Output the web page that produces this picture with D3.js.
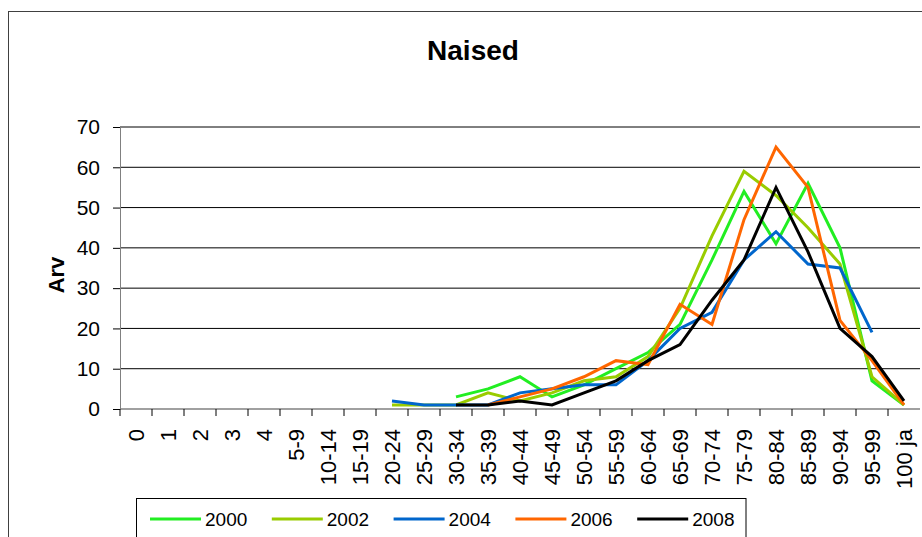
<!DOCTYPE html>
<html>
<head>
<meta charset="utf-8">
<script src="https://cdn.jsdelivr.net/npm/d3@7"></script>
<style>
  body { margin: 0; background: #fff; }
  svg { font-family: "Liberation Sans", Arial, sans-serif; }
</style>
</head>
<body>
<div id="chart"></div>
<script>
const categories = ["0", "1", "2", "3", "4", "5-9", "10-14", "15-19", "20-24", "25-29", "30-34",
  "35-39", "40-44", "45-49", "50-54", "55-59", "60-64", "65-69", "70-74", "75-79", "80-84",
  "85-89", "90-94", "95-99", "100 ja"];
const years = ["2000", "2002", "2004", "2006", "2008"];
const colors = ["#22ee22", "#99cc00", "#0066cc", "#ff6600", "#000000"];
const yTicks = [0, 10, 20, 30, 40, 50, 60, 70];

const n = null;
const v2000 = [n, n, n, n, n, n, n, n, n, n, 3, 5, 8, 3, 6, 10, 14, 21, 37, 54, 41, 56, 40, 7, 1];
const v2002 = [n, n, n, n, n, n, n, n, 1, 1, 1, 4, 2, 4, 7, 8, 13, 25, 43, 59, 53, 45, 36, 8, 1];
const v2004 = [n, n, n, n, n, n, n, n, 2, 1, 1, 1, 4, 5, 6, 6, 12, 20, 24, 37, 44, 36, 35, 19, n];
const v2006 = [n, n, n, n, n, n, n, n, n, n, n, 1, 3, 5, 8, 12, 11, 26, 21, 47, 65, 55, 22, 12, 1];
const v2008 = [n, n, n, n, n, n, n, n, n, n, 1, 1, 2, 1, 4, 7, 12, 16, 27, 37, 55, 39, 20, 13, 2];
const series = [v2000, v2002, v2004, v2006, v2008];

const width = 922, height = 537;
const margin = { top: 127, right: 2, bottom: 128, left: 120 };

const svg = d3.select("#chart").append("svg")
  .attr("width", width)
  .attr("height", height);

// outer frame
svg.append("rect")
  .attr("x", 8.5).attr("y", 11.5)
  .attr("width", 940).attr("height", 600)
  .attr("fill", "none").attr("stroke", "#404040");

const x = d3.scaleBand()
  .domain(categories)
  .range([margin.left, width - margin.right])
  .padding(0);

const y = d3.scaleLinear()
  .domain([0, 70])
  .range([height - margin.bottom, margin.top]);

const bottom = y(0);

// gridlines
svg.append("g")
  .selectAll("line")
  .data(yTicks.filter(d => d > 0))
  .join("line")
  .attr("x1", margin.left).attr("x2", width - margin.right)
  .attr("y1", d => y(d)).attr("y2", d => y(d))
  .attr("stroke", "#000").attr("stroke-width", 1);

// y axis
const yAxis = svg.append("g")
  .attr("transform", `translate(${margin.left},0)`)
  .call(d3.axisLeft(y).tickValues(yTicks).tickSize(7).tickPadding(13).tickSizeOuter(0));
yAxis.select(".domain").attr("stroke", "#808080");
yAxis.selectAll(".tick line").attr("stroke", "#000");
yAxis.selectAll("text").attr("font-size", 21).attr("fill", "#000")
  .attr("font-family", "Liberation Sans, Arial, sans-serif");

// x axis line
svg.append("line")
  .attr("x1", margin.left).attr("x2", width - margin.right)
  .attr("y1", bottom).attr("y2", bottom)
  .attr("stroke", "#808080").attr("stroke-width", 1.5);

// x ticks between categories
svg.append("g")
  .selectAll("line")
  .data(categories)
  .join("line")
  .attr("x1", d => x(d)).attr("x2", d => x(d))
  .attr("y1", bottom).attr("y2", bottom + 7)
  .attr("stroke", "#000");

// x labels, rotated
svg.append("g")
  .selectAll("text")
  .data(categories)
  .join("text")
  .attr("transform", d => `translate(${x(d) + x.bandwidth() / 2},${bottom + 20}) rotate(-90)`)
  .attr("text-anchor", "end")
  .attr("dy", "0.36em")
  .attr("font-size", 22)
  .text(d => d);

// lines
const line = d3.line()
  .defined(d => d.v !== null)
  .x(d => x(d.c) + x.bandwidth() / 2)
  .y(d => y(d.v));

svg.append("g")
  .selectAll("path")
  .data(series)
  .join("path")
  .attr("fill", "none")
  .attr("stroke", (d, i) => colors[i])
  .attr("stroke-width", 3)
  .attr("stroke-linejoin", "miter")
  .attr("d", d => line(d.map((v, i) => ({ c: categories[i], v: v }))));

// title
svg.append("text")
  .attr("x", 473).attr("y", 60)
  .attr("text-anchor", "middle")
  .attr("font-size", 28)
  .attr("font-weight", "bold")
  .text("Naised");

// y title
svg.append("text")
  .attr("transform", "translate(64,275) rotate(-90)")
  .attr("text-anchor", "middle")
  .attr("font-size", 22)
  .attr("font-weight", "bold")
  .text("Arv");

// legend
const legend = svg.append("g");
legend.append("rect")
  .attr("x", 136.5).attr("y", 498.5)
  .attr("width", 609.5).attr("height", 60)
  .attr("fill", "#fff").attr("stroke", "#000");

const item = legend.selectAll("g")
  .data(years)
  .join("g")
  .attr("transform", (d, i) => `translate(${150 + i * 121.8},519)`);
item.append("line")
  .attr("x1", 0).attr("x2", 51)
  .attr("stroke", (d, i) => colors[i])
  .attr("stroke-width", 3);
item.append("text")
  .attr("x", 55).attr("dy", "0.36em")
  .attr("font-size", 19)
  .text(d => d);
</script>
</body>
</html>
